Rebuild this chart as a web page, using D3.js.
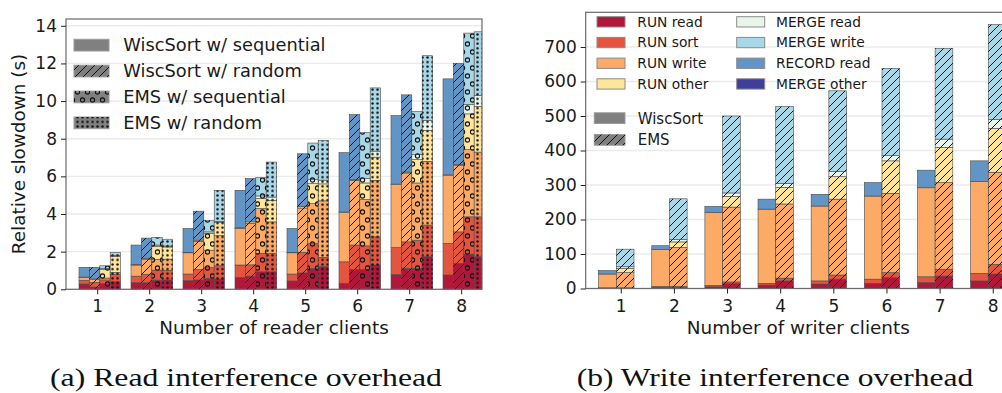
<!DOCTYPE html>
<html>
<head>
<meta charset="utf-8">
<script src="https://cdn.jsdelivr.net/npm/d3@7"></script>
<style>
  body { margin: 0; background: #fff; }
  svg { display: block; font-family: "DejaVu Sans", sans-serif; }
  .tick text { fill: #1a1a1a; }
  .tick line { stroke: #222; }
</style>
</head>
<body>
<div id="chart"></div>
<script>
////////////////////////////////////////////////////////////////////
////////////////////////////  Data  ////////////////////////////////
const clients = [1, 2, 3, 4, 5, 6, 7, 8];
const parts = ["RUN read", "RUN sort", "RUN write", "RUN other",
  "MERGE read", "MERGE write", "RECORD read", "MERGE other"];
const partColors = ["#b0173b", "#e4553f", "#fcaa65", "#fee59a",
  "#e8f5e8", "#a8d7e7", "#6394c6", "#3d3f98"];

// (a) read interference, seconds; one row per part, one column per client count
const readWiscSeq = [
  [0.28, 0.35, 0.46, 0.64, 0.44, 0.32, 0.79, 0.76],
  [0.20, 0.35, 0.35, 0.65, 0.37, 1.14, 1.43, 1.68],
  [0.15, 0.59, 1.13, 1.95, 1.13, 2.62, 3.34, 3.60],
  [0.02, 0.02, 0.02, 0.03, 0.02, 0.03, 0.03, 0.04],
  [0, 0, 0, 0, 0, 0, 0, 0],
  [0, 0, 0, 0, 0, 0, 0, 0],
  [0.52, 1.04, 1.27, 1.99, 1.27, 3.15, 3.64, 5.10],
  [0, 0, 0, 0, 0, 0, 0, 0]
];
const readWiscRnd = [
  [0.12, 0.35, 0.50, 0.70, 0.87, 1.06, 1.11, 1.38],
  [0.25, 0.45, 0.55, 0.60, 1.10, 1.29, 1.41, 1.67],
  [0.15, 0.80, 1.50, 2.20, 2.35, 3.44, 3.66, 3.53],
  [0.03, 0.05, 0.06, 0.08, 0.08, 0.05, 0.05, 0.05],
  [0, 0, 0, 0, 0, 0, 0, 0],
  [0, 0, 0, 0, 0, 0, 0, 0],
  [0.62, 1.07, 1.54, 2.30, 2.80, 3.44, 4.10, 5.37],
  [0, 0, 0, 0, 0, 0, 0, 0]
];
const readEmsSeq = [
  [0.30, 0.49, 0.58, 0.93, 1.11, 1.06, 1.11, 1.87],
  [0.20, 0.53, 0.58, 0.98, 1.32, 1.25, 1.50, 1.98],
  [0.10, 0.57, 0.92, 2.38, 2.12, 2.46, 3.04, 3.57],
  [0.45, 0.70, 0.90, 0.53, 1.06, 0.88, 1.24, 1.90],
  [0.05, 0.06, 0.07, 0.14, 0.22, 0.23, 0.26, 0.49],
  [0.15, 0.40, 0.62, 0.97, 1.94, 2.44, 2.29, 3.80],
  [0, 0, 0, 0, 0, 0, 0, 0],
  [0, 0, 0, 0, 0, 0, 0, 0]
];
const readEmsRnd = [
  [0.40, 0.50, 0.55, 0.93, 1.20, 1.29, 1.73, 1.73],
  [0.40, 0.50, 0.70, 0.98, 0.50, 1.50, 1.68, 2.12],
  [0.10, 0.60, 1.60, 1.67, 3.00, 3.00, 3.39, 3.44],
  [0.85, 0.65, 0.70, 1.15, 0.90, 1.23, 1.64, 2.42],
  [0.05, 0.05, 0.05, 0.17, 0.20, 0.32, 0.53, 0.58],
  [0.16, 0.36, 1.66, 1.86, 2.10, 3.36, 3.44, 3.39],
  [0, 0, 0, 0, 0, 0, 0, 0],
  [0, 0, 0, 0, 0, 0, 0, 0]
];
const readSeries = ["WiscSort w/ sequential", "WiscSort w/ random",
  "EMS w/ sequential", "EMS w/ random"];
const readHatch = [null, "diag", "ring", "dot"];
const readYTicks = [0, 2, 4, 6, 8, 10, 12, 14];

// (b) write interference
const writeWisc = [
  [1, 3, 5, 10, 13, 15, 17, 22],
  [1, 3, 4, 5, 9, 12, 17, 22],
  [40, 107, 212, 215, 217, 241, 258, 266],
  [0, 0, 0, 0, 0, 0, 0, 0],
  [0, 0, 0, 0, 0, 0, 0, 0],
  [0, 0, 0, 0, 0, 0, 0, 0],
  [10, 11, 17, 29, 34, 39, 51, 60],
  [0, 0, 0, 0, 0, 0, 0, 0]
];
const writeEms = [
  [1, 3, 14, 22, 27, 32, 36, 42],
  [1, 3, 5, 8, 12, 14, 20, 28],
  [44, 113, 217, 215, 220, 230, 251, 267],
  [12, 16, 31, 48, 65, 94, 102, 127],
  [5, 7, 10, 12, 15, 15, 24, 26],
  [51, 118, 223, 222, 234, 253, 263, 275],
  [0, 0, 0, 0, 0, 0, 0, 0],
  [0, 0, 0, 0, 0, 0, 0, 0]
];
const writeSeries = ["WiscSort", "EMS"];
const writeHatch = [null, "diag"];
const writeYTicks = [0, 100, 200, 300, 400, 500, 600, 700];

////////////////////////////////////////////////////////////////////
////////////////////////////  Init  ////////////////////////////////
const width = 1002;
const height = 393;

const svg = d3.select("#chart").append("svg")
  .attr("width", width).attr("height", height);

const defs = svg.append("defs");

defs.append("pattern").attr("id", "diag")
  .attr("patternUnits", "userSpaceOnUse").attr("width", 8).attr("height", 8)
  .append("path")
  .attr("d", "M-2,2L2,-2M0,8L8,0M6,10L10,6")
  .attr("stroke", "#111").attr("stroke-width", 1);

const ring = defs.append("pattern").attr("id", "ring")
  .attr("patternUnits", "userSpaceOnUse").attr("width", 10).attr("height", 16);
[[2.5, 4], [7.5, 12]].forEach(([cx, cy]) => {
  ring.append("circle").attr("cx", cx).attr("cy", cy).attr("r", 2.1)
    .attr("fill", "none").attr("stroke", "#111").attr("stroke-width", 1.15);
});

const dot = defs.append("pattern").attr("id", "dot")
  .attr("patternUnits", "userSpaceOnUse").attr("width", 5).attr("height", 4.6);
dot.append("circle").attr("cx", 2.5).attr("cy", 2.3).attr("r", 1.25).attr("fill", "#111");

// flatten stacked segments
function segments(sets, hatches) {
  const out = [];
  sets.forEach((rows, k) => {
    clients.forEach((c, i) => {
      let acc = 0;
      parts.forEach((p, j) => {
        const v = rows[j][i];
        if (!v) return;
        out.push({ client: c, k, part: j, y0: acc, y1: acc + v, hatch: hatches[k] });
        acc += v;
      });
    });
  });
  return out;
}

function panel(opt) {
  const { box, xDomain, yMax, ticks, sets, hatches, barW, barStart, id, xLabel } = opt;
  const x = d3.scaleLinear().domain(xDomain).range([box.left, box.right]);
  const y = d3.scaleLinear().domain([0, yMax]).range([box.bottom, box.top]);

  const g = svg.append("g");

  g.selectAll(".grid").data(ticks).enter().append("line")
    .attr("x1", box.left).attr("x2", Math.min(box.right, width))
    .attr("y1", (d) => y(d)).attr("y2", (d) => y(d))
    .attr("stroke", "#ebebeb").attr("stroke-width", 1.4);

  defs.append("clipPath").attr("id", "clip-" + id)
    .append("rect").attr("x", box.left).attr("y", box.top)
    .attr("width", box.right - box.left).attr("height", box.bottom - box.top);

  const bars = g.append("g").attr("clip-path", `url(#clip-${id})`);
  const segs = segments(sets, hatches);
  const bx = (d) => x(d.client + barStart + barW * d.k);
  const bw = x(barW) - x(0);

  bars.selectAll(".seg").data(segs).enter().append("rect")
    .attr("x", bx).attr("width", bw)
    .attr("y", (d) => y(d.y1)).attr("height", (d) => y(d.y0) - y(d.y1))
    .attr("fill", (d) => partColors[d.part])
    .attr("stroke", "#4a4a4a").attr("stroke-width", 0.6);

  bars.selectAll(".hatch").data(segs.filter((d) => d.hatch)).enter().append("rect")
    .attr("x", bx).attr("width", bw)
    .attr("y", (d) => y(d.y1)).attr("height", (d) => y(d.y0) - y(d.y1))
    .attr("fill", (d) => `url(#${d.hatch})`);

  // frame
  g.append("rect")
    .attr("x", box.left).attr("y", box.top)
    .attr("width", box.right - box.left).attr("height", box.bottom - box.top)
    .attr("fill", "none").attr("stroke", "#6a6a6a").attr("stroke-width", 1.2);

  const xAxis = g.append("g")
    .attr("transform", `translate(0, ${box.bottom})`)
    .call(d3.axisBottom(x).tickValues(clients).tickSize(5).tickPadding(6).tickFormat(d3.format("d")));
  const yAxis = g.append("g")
    .attr("transform", `translate(${box.left}, 0)`)
    .call(d3.axisLeft(y).tickValues(ticks).tickSize(5).tickPadding(4));
  [xAxis, yAxis].forEach((a) => {
    a.select(".domain").remove();
    a.selectAll("text").style("font-size", "17px").style("font-family", "DejaVu Sans");
  });

  g.append("text")
    .attr("x", (box.left + box.right) / 2).attr("y", 334)
    .attr("text-anchor", "middle").style("font-size", "18.4px").attr("fill", "#1a1a1a")
    .text(xLabel);

  return { x, y, g };
}

////////////////////////////////////////////////////////////////////
////////////////////////////  Panel (a)  ///////////////////////////
panel({
  id: "read",
  box: { left: 66, right: 482, top: 19, bottom: 289.3 },
  xDomain: [0.4, 8.4],
  yMax: 14.36,
  ticks: readYTicks,
  sets: [readWiscSeq, readWiscRnd, readEmsSeq, readEmsRnd],
  hatches: readHatch,
  barW: 0.2,
  barStart: -0.35,
  xLabel: "Number of reader clients"
});

svg.append("text")
  .attr("transform", "translate(25, 154) rotate(-90)")
  .attr("text-anchor", "middle").style("font-size", "18.4px").attr("fill", "#1a1a1a")
  .text("Relative slowdown (s)");

// legend (a)
const legA = svg.append("g");
legA.selectAll(".lp").data(readSeries).enter().append("rect")
  .attr("x", 74).attr("y", (d, i) => 39.3 + 25.9 * i)
  .attr("width", 35).attr("height", 11.7)
  .attr("fill", "#808080").attr("stroke", "#9a9a9a").attr("stroke-width", 1);
legA.selectAll(".lh").data(readSeries.filter((d, i) => readHatch[i])).enter().append("rect")
  .attr("x", 74).attr("y", (d) => 39.3 + 25.9 * readSeries.indexOf(d))
  .attr("width", 35).attr("height", 11.7)
  .attr("fill", (d) => `url(#${readHatch[readSeries.indexOf(d)]})`);
legA.selectAll(".lt").data(readSeries).enter().append("text")
  .attr("x", 123.3).attr("y", (d, i) => 51.4 + 25.9 * i)
  .style("font-size", "17.8px").attr("fill", "#1a1a1a")
  .text((d) => d);

////////////////////////////////////////////////////////////////////
////////////////////////////  Panel (b)  ///////////////////////////
panel({
  id: "write",
  box: { left: 585.7, right: 1010.8, top: 12.3, bottom: 288.5 },
  xDomain: [0.34, 8.34],
  yMax: 800.6,
  ticks: writeYTicks,
  sets: [writeWisc, writeEms],
  hatches: writeHatch,
  barW: 0.333,
  barStart: -0.417,
  xLabel: "Number of writer clients"
});

// legend (b): parts in two columns
const legB = svg.append("g");
legB.selectAll(".pp").data(parts).enter().append("rect")
  .attr("x", (d, i) => (i < 4 ? 597 : 736.7))
  .attr("y", (d, i) => 16.7 + 20.7 * (i % 4))
  .attr("width", 28).attr("height", 10.3)
  .attr("fill", (d, i) => partColors[i])
  .attr("stroke", "#8a8a8a").attr("stroke-width", 1);
legB.selectAll(".pt").data(parts).enter().append("text")
  .attr("x", (d, i) => (i < 4 ? 637.3 : 776))
  .attr("y", (d, i) => 26.5 + 20.7 * (i % 4))
  .style("font-size", "13.8px").attr("fill", "#1a1a1a")
  .text((d) => d);

legB.selectAll(".sp").data(writeSeries).enter().append("rect")
  .attr("x", 594.3).attr("y", (d, i) => 112.8 + 21.7 * i)
  .attr("width", 30.7).attr("height", 10.7)
  .attr("fill", "#808080").attr("stroke", "#9a9a9a").attr("stroke-width", 1);
legB.selectAll(".sh").data(writeSeries.filter((d, i) => writeHatch[i])).enter().append("rect")
  .attr("x", 594.3).attr("y", (d) => 112.8 + 21.7 * writeSeries.indexOf(d))
  .attr("width", 30.7).attr("height", 10.7)
  .attr("fill", (d) => `url(#${writeHatch[writeSeries.indexOf(d)]})`);
legB.selectAll(".st").data(writeSeries).enter().append("text")
  .attr("x", 637.7).attr("y", (d, i) => 123.6 + 21.7 * i)
  .style("font-size", "15px").attr("fill", "#1a1a1a")
  .text((d) => d);

////////////////////////////////////////////////////////////////////
////////////////////////////  Captions  ////////////////////////////
const captions = [
  { text: "(a) Read interference overhead", x: 50, w: 392 },
  { text: "(b) Write interference overhead", x: 576.7, w: 396.6 }
];
svg.selectAll(".cap").data(captions).enter().append("text")
  .attr("x", (d) => d.x).attr("y", 386)
  .attr("textLength", (d) => d.w).attr("lengthAdjust", "spacingAndGlyphs")
  .style("font-family", "'Liberation Serif', serif").style("font-size", "26px")
  .attr("fill", "#111")
  .text((d) => d.text);
</script>
</body>
</html>
